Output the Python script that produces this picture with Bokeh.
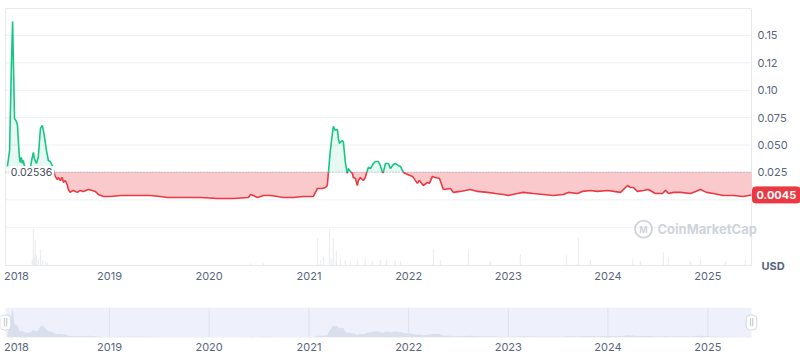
import numpy as np
import pandas as pd
from bokeh.plotting import figure
from bokeh.layouts import column
from bokeh.models import Range1d, FixedTicker, Label, DatetimeTickFormatter
from bokeh.core.properties import value
from bokeh.embed import file_html
from bokeh.resources import INLINE

# ---------------- data ----------------
dates = [
    "2017-12-23", "2017-12-31", "2018-01-07", "2018-01-11", "2018-01-14", "2018-01-18",
    "2018-01-25", "2018-01-29", "2018-02-01", "2018-02-05", "2018-02-08", "2018-02-12",
    "2018-02-16", "2018-02-19", "2018-02-23", "2018-03-03", "2018-03-10", "2018-03-17",
    "2018-03-21", "2018-03-28", "2018-04-01", "2018-04-08", "2018-04-15", "2018-04-23",
    "2018-04-30", "2018-05-07", "2018-05-15", "2018-05-22", "2018-05-29", "2018-06-05",
    "2018-06-13", "2018-06-16", "2018-06-24", "2018-06-27", "2018-07-05", "2018-07-12",
    "2018-07-16", "2018-07-23", "2018-07-31", "2018-08-03", "2018-08-10", "2018-08-21",
    "2018-09-05", "2018-09-16", "2018-09-27", "2018-10-16", "2018-10-30", "2018-11-10",
    "2018-11-21", "2018-12-10", "2019-01-05", "2019-02-10", "2019-03-18", "2019-04-24",
    "2019-05-31", "2019-07-06", "2019-08-01", "2019-09-29", "2019-11-30", "2020-01-31",
    "2020-03-30", "2020-05-24", "2020-06-01", "2020-06-11", "2020-06-26", "2020-07-18",
    "2020-08-13", "2020-09-07", "2020-09-29", "2020-11-05", "2020-12-11", "2021-01-17",
    "2021-02-01", "2021-02-19", "2021-03-02", "2021-03-09", "2021-03-13", "2021-03-20",
    "2021-03-31", "2021-04-07", "2021-04-15", "2021-04-18", "2021-04-22", "2021-05-03",
    "2021-05-07", "2021-05-14", "2021-05-21", "2021-05-25", "2021-06-01", "2021-06-09",
    "2021-06-12", "2021-06-20", "2021-06-27", "2021-07-01", "2021-07-08", "2021-07-19",
    "2021-07-26", "2021-08-06", "2021-08-14", "2021-08-25", "2021-09-01", "2021-09-12",
    "2021-09-19", "2021-09-27", "2021-09-30", "2021-10-08", "2021-10-19", "2021-10-26",
    "2021-11-06", "2021-11-13", "2021-11-24", "2021-12-02", "2021-12-13", "2021-12-28",
    "2022-01-15", "2022-02-02", "2022-02-09", "2022-02-24", "2022-03-11", "2022-03-18",
    "2022-03-29", "2022-04-09", "2022-04-24", "2022-05-08", "2022-06-03", "2022-06-14",
    "2022-07-09", "2022-08-15", "2022-09-10", "2022-10-16", "2022-11-15", "2022-12-14",
    "2023-01-01", "2023-02-03", "2023-02-25", "2023-04-03", "2023-05-09", "2023-06-15",
    "2023-07-22", "2023-08-09", "2023-09-11", "2023-09-29", "2023-10-29", "2023-11-23",
    "2023-12-31", "2024-02-16", "2024-03-13", "2024-03-23", "2024-04-03", "2024-04-18",
    "2024-05-10", "2024-05-28", "2024-06-23", "2024-07-19", "2024-07-30", "2024-08-10",
    "2024-08-28", "2024-09-23", "2024-10-30", "2024-12-05", "2024-12-27", "2025-01-21",
    "2025-02-27", "2025-04-05", "2025-05-11", "2025-06-10",
]
prices = [
    0.0305, 0.0451, 0.1272, 0.1628, 0.1254, 0.0743,
    0.0715, 0.0679, 0.0542, 0.0387, 0.0341, 0.0387,
    0.0332, 0.0359, 0.0314, 0.0268, 0.0268, 0.0286,
    0.0350, 0.0432, 0.0378, 0.0332, 0.0387, 0.0651,
    0.0679, 0.0588, 0.0451, 0.0359, 0.0350, 0.0314,
    0.0241, 0.0214, 0.0186, 0.0204, 0.0177, 0.0204,
    0.0159, 0.0177, 0.0131, 0.0095, 0.0068, 0.0086,
    0.0068, 0.0086, 0.0077, 0.0095, 0.0086, 0.0077,
    0.0049, 0.0031, 0.0031, 0.0040, 0.0040, 0.0040,
    0.0040, 0.0031, 0.0022, 0.0022, 0.0022, 0.0013,
    0.0013, 0.0022, 0.0049, 0.0040, 0.0022, 0.0040,
    0.0040, 0.0031, 0.0022, 0.0022, 0.0031, 0.0031,
    0.0104, 0.0104, 0.0113, 0.0131, 0.0250, 0.0451,
    0.0670, 0.0634, 0.0642, 0.0569, 0.0515, 0.0542,
    0.0524, 0.0341, 0.0241, 0.0286, 0.0259, 0.0241,
    0.0204, 0.0195, 0.0131, 0.0177, 0.0204, 0.0177,
    0.0204, 0.0296, 0.0286, 0.0332, 0.0350, 0.0350,
    0.0314, 0.0250, 0.0250, 0.0332, 0.0332, 0.0286,
    0.0323, 0.0332, 0.0314, 0.0305, 0.0250, 0.0232,
    0.0214, 0.0150, 0.0177, 0.0131, 0.0159, 0.0150,
    0.0214, 0.0204, 0.0195, 0.0095, 0.0104, 0.0068,
    0.0077, 0.0095, 0.0077, 0.0068, 0.0058, 0.0049,
    0.0040, 0.0058, 0.0068, 0.0058, 0.0049, 0.0040,
    0.0049, 0.0068, 0.0058, 0.0077, 0.0086, 0.0077,
    0.0086, 0.0068, 0.0131, 0.0113, 0.0113, 0.0077,
    0.0086, 0.0095, 0.0058, 0.0058, 0.0086, 0.0058,
    0.0068, 0.0068, 0.0058, 0.0095, 0.0068, 0.0058,
    0.0040, 0.0040, 0.0031, 0.0045,
]
vol_dates = [
    "2018-03-24", "2018-03-28", "2018-04-01", "2018-04-04", "2018-04-08", "2018-04-15",
    "2018-04-23", "2018-04-30", "2018-05-11", "2018-05-18",
    "2020-06-01", "2020-07-18",
    "2021-02-01", "2021-02-12", "2021-02-23", "2021-03-17", "2021-03-24", "2021-03-31",
    "2021-04-11", "2021-04-26", "2021-05-14", "2021-06-01", "2021-06-27", "2021-07-26",
    "2021-08-21", "2021-09-19", "2021-10-11", "2021-11-13", "2021-12-02",
    "2022-04-02", "2022-04-27", "2022-08-08", "2022-10-27",
    "2023-02-14", "2023-08-02", "2023-09-15", "2023-10-29",
    "2024-03-31", "2024-04-29", "2024-07-22", "2024-08-10", "2024-10-30",
    "2024-12-05", "2025-03-06", "2025-05-18",
]
vol_values = [
    6, 36, 8, 25, 10, 6,
    16, 5, 4, 3,
    2, 2,
    27, 5, 8, 36, 6, 27,
    14, 6, 5, 4, 5, 6,
    4, 5, 6, 5, 4,
    16, 5, 16, 4,
    11, 10, 27, 5,
    6, 4, 13, 8, 4,
    6, 4, 5,
]
baseline = 0.02536
last_price = 0.0045
year_labels = ["2018", "2019", "2020", "2021", "2022", "2023", "2024", "2025"]
price_ticks = [-0.025, 0.0, 0.025, 0.05, 0.075, 0.1, 0.125, 0.15]
price_tick_labels = ["", "", "0.025", "0.050", "0.075", "0.10", "0.12", "0.15"]

# ---------------- helpers ----------------
def to_ms(strs):
    d = pd.to_datetime(strs)
    return np.asarray((d - pd.Timestamp("1970-01-01")) // pd.Timedelta(milliseconds=1), dtype=float)

t = to_ms(dates)
p_arr = np.asarray(prices, dtype=float)
vt = to_ms(vol_dates)
vv = np.asarray(vol_values, dtype=float)

x_start = to_ms(["2017-12-16"])[0]
x_end = to_ms(["2025-06-10"])[0]
DAY = 86400000.0
XPP = (x_end - x_start) / 746.0          # ms per pixel along x
YPP = 1.0 / 1096.0                       # price per pixel along y
y_top_val = 0.1746                       # price at top border
y_bot_val = -0.0599                      # price at bottom border

# insert baseline crossings
xs = [t[0]]
ys = [p_arr[0]]
for i in range(1, len(t)):
    a = p_arr[i - 1] - baseline
    b = p_arr[i] - baseline
    if a * b < 0:
        f = a / (a - b)
        xs.append(t[i - 1] + f * (t[i] - t[i - 1]))
        ys.append(baseline)
    xs.append(t[i])
    ys.append(p_arr[i])
xs = np.array(xs)
ys = np.array(ys)

seg_x, seg_y, seg_c = [], [], []
cur_x, cur_y, cur_s = [xs[0]], [ys[0]], None
for i in range(1, len(xs)):
    s = (ys[i - 1] + ys[i]) / 2 >= baseline
    if cur_s is None:
        cur_s = s
    if s != cur_s:
        seg_x.append(cur_x); seg_y.append(cur_y); seg_c.append("#16c784" if cur_s else "#ea3943")
        cur_x, cur_y, cur_s = [xs[i - 1]], [ys[i - 1]], s
    cur_x.append(xs[i]); cur_y.append(ys[i])
seg_x.append(cur_x); seg_y.append(cur_y); seg_c.append("#16c784" if cur_s else "#ea3943")

FONT = "Inter"
GRAY = "#58667e"
GRID = "#eef0f3"
BORDER = "#e6e9ee"

year_ticks = list(to_ms([f"{y}-01-01" for y in year_labels]))
label_ticks = [to_ms(["2018-01-25"])[0]] + year_ticks[1:]
grid_ticks = year_ticks[1:]

fmt = DatetimeTickFormatter(milliseconds="%Y", seconds="%Y", minsec="%Y", minutes="%Y",
                            hourmin="%Y", hours="%Y", days="%Y", months="%Y", years="%Y")


def style_xaxis(ax, standoff):
    ax.ticker = FixedTicker(ticks=label_ticks)
    ax.formatter = fmt
    ax.axis_line_color = None
    ax.major_tick_line_color = None
    ax.minor_tick_line_color = None
    ax.major_tick_out = 0
    ax.major_tick_in = 0
    ax.minor_tick_out = 0
    ax.minor_tick_in = 0
    ax.major_label_text_font = FONT
    ax.major_label_text_font_size = "11px"
    ax.major_label_text_color = GRAY
    ax.major_label_standoff = standoff


# both frames span the full window width; x_start sits 5 px from the left edge
x_rng_start = x_start - 5 * XPP
x_rng_end = x_start + 795 * XPP

# ---------------- main chart ----------------
p = figure(width=800, height=290, x_axis_type="datetime",
           x_range=Range1d(x_rng_start, x_rng_end),
           y_range=Range1d(y_bot_val - 6 * YPP, y_top_val + 1 * YPP),
           y_axis_location=None, output_backend="svg", toolbar_location=None,
           min_border=0, min_border_left=0, min_border_right=0, min_border_top=7,
           min_border_bottom=19)
p.outline_line_color = None
p.background_fill_color = "white"
p.border_fill_color = "white"
p.extra_y_ranges = {"vol": Range1d(-6, 258)}
p.xgrid.visible = False
p.ygrid.visible = False
style_xaxis(p.xaxis[0], 0)

# horizontal grid lines (price ticks) limited to the plot box
p.segment(x0=x_start, x1=x_end, y0=price_ticks, y1=price_ticks, line_color=GRID, line_width=1)
# plot box border
p.segment(x0=[x_start, x_start, x_start, x_end], x1=[x_end, x_end, x_start, x_end],
          y0=[y_top_val, y_bot_val, y_bot_val, y_bot_val],
          y1=[y_top_val, y_bot_val, y_top_val, y_top_val],
          line_color=BORDER, line_width=1)

# volume
p.vbar(x=vt, top=vv, bottom=0, width=DAY * 1.2, y_range_name="vol",
       fill_color="#e9ebef", line_color="#e9ebef", line_width=0.6)

# fills
p.varea(x=xs, y1=baseline, y2=np.maximum(ys, baseline), fill_color="#16c784", fill_alpha=0.10)
p.varea(x=xs, y1=baseline, y2=np.minimum(ys, baseline), fill_color="#ea3943", fill_alpha=0.27)

# baseline
p.line(x=[x_start, x_end], y=[baseline, baseline], line_color="#a9b1c0",
       line_dash="1 2", line_width=1)

# price line
p.multi_line(xs=seg_x, ys=seg_y, line_color=seg_c, line_width=1.6)

# right-hand price tick labels
p.text(x=[x_end + 6 * XPP] * 6, y=price_ticks[2:], text=price_tick_labels[2:],
       text_align="left", text_baseline="middle", text_font=value(FONT),
       text_font_size="11px", text_color=GRAY)

# baseline label
p.add_layout(Label(x=x_start + 12 * DAY, y=baseline, text=f"{baseline:.5f}",
                   text_align="left", text_baseline="middle", text_font=FONT,
                   text_font_size="10.5px", text_color="#3f4756",
                   background_fill_color="white", background_fill_alpha=0.95,
                   padding=2))

# last price tag
p.add_layout(Label(x=x_end, y=last_price, text=f"{last_price}", x_offset=1,
                   text_align="left", text_baseline="middle", text_font=FONT,
                   text_font_size="11px", text_font_style="bold", text_color="white",
                   background_fill_color="#ea3943", border_line_color="#ea3943",
                   padding=4, border_radius=3))

# USD label
p.add_layout(Label(x=x_end + 10 * XPP, y=y_bot_val, text="USD",
                   text_align="left", text_baseline="middle", text_font=FONT,
                   text_font_size="11px", text_font_style="bold", text_color=GRAY))

# watermark
wm_y = baseline - 57 * YPP
p.add_layout(Label(x=x_start + 652 * XPP, y=wm_y, text="CoinMarketCap", text_align="left",
                   text_baseline="middle", text_font=FONT, text_font_size="13px",
                   text_font_style="bold", text_color="#cfd4dc"))
logo_x = x_start + 638 * XPP
p.scatter(x=[logo_x], y=[wm_y], size=17, marker="circle", fill_color=None,
          line_color="#cfd4dc", line_width=1.8)
p.add_layout(Label(x=logo_x, y=wm_y, text="M", text_align="center",
                   text_baseline="middle", text_font=FONT, text_font_size="9px",
                   text_font_style="bold", text_color="#cfd4dc"))

# ---------------- navigator ----------------
nav_top = 0.168
nav = figure(width=800, height=65, x_axis_type="datetime",
             x_range=Range1d(x_rng_start, x_rng_end),
             y_range=Range1d(0, nav_top), y_axis_location=None,
             output_backend="svg", toolbar_location=None,
             min_border=0, min_border_left=0, min_border_right=0, min_border_top=17,
             min_border_bottom=18)
nav.outline_line_color = None
nav.background_fill_color = "white"
nav.border_fill_color = "white"
nav.xgrid.visible = False
nav.ygrid.visible = False
style_xaxis(nav.xaxis[0], 5)

nav.quad(left=x_start, right=x_end, bottom=0, top=nav_top, fill_color="#eef1fb", line_color=None)
nav.varea(x=t, y1=0, y2=p_arr, fill_color="#d9dfec")
nav.segment(x0=grid_ticks, x1=grid_ticks, y0=0, y1=nav_top, line_color="#dde2ee", line_width=1)

for hx in (x_start, x_end):
    nav.add_layout(Label(x=hx, y=nav_top / 2, text="||", text_align="center",
                         text_baseline="middle", text_font=FONT, text_font_size="7px",
                         text_color="#8d96a8", background_fill_color="white",
                         border_line_color="#d3d8e2", padding=3, border_radius=4))

layout = column(p, nav, spacing=0)
open("out.html", "w").write(file_html(layout, INLINE))
